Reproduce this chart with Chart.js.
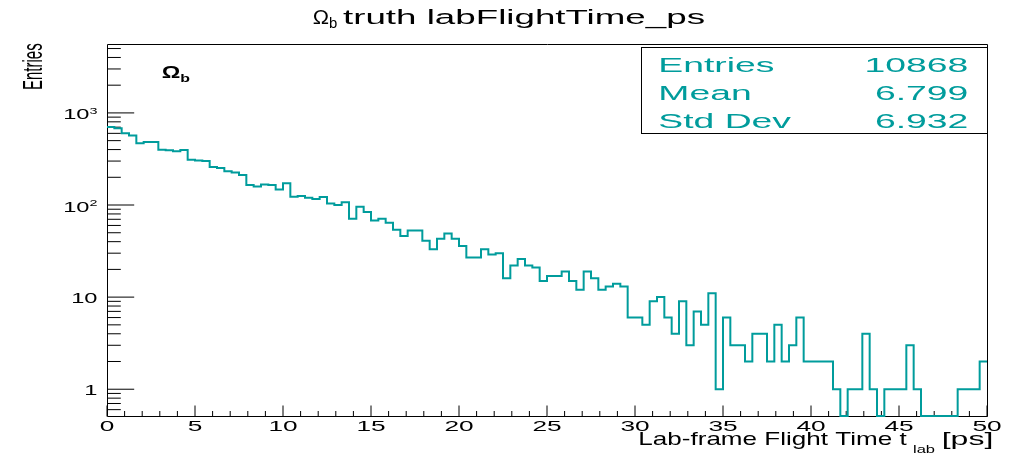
<!DOCTYPE html>
<html>
<head>
<meta charset="utf-8">
<title>Omega_b truth labFlightTime_ps</title>
<script src="https://cdn.jsdelivr.net/npm/chart.js@4.4.1/dist/chart.umd.min.js"></script>
<style>
  html, body { margin: 0; padding: 0; background: #fff; }
  #wrap { position: relative; width: 1017px; height: 454px; }
</style>
</head>
<body>
<div id="wrap"><canvas id="graph"></canvas></div>
<script>
// histogram: 120 bins from 0 to 50 ps
const xLow = 0;
const xHigh = 50;
const counts = [
  705, 680, 600, 567, 467, 484, 484, 399, 392, 383,
  396, 311, 305, 301, 259, 252, 232, 226, 212, 165,
  159, 167, 165, 147, 172, 123, 125, 120, 116, 122,
  104, 100, 107, 71, 96, 84, 68, 71, 64, 54,
  46, 53, 53, 41, 33, 43, 49, 43, 36, 27,
  27, 33, 29, 30, 16, 22, 26, 22, 21, 15,
  17, 17, 19, 15, 12, 19, 16, 12, 13, 14,
  13, 6, 6, 5, 9, 10, 6, 4, 9, 3,
  7, 5, 11, 1, 6, 3, 3, 2, 4, 4,
  2, 5, 2, 3, 6, 2, 2, 2, 2, 1,
  0, 1, 1, 4, 1, 0, 1, 1, 1, 3,
  1, 0, 0, 0, 0, 0, 1, 1, 1, 2
];
const binWidth = (xHigh - xLow) / counts.length;
const binEdges = [];
for (let i = 0; i <= counts.length; i++) binEdges.push(xLow + i * binWidth);

const xTickValues = [0, 5, 10, 15, 20, 25, 30, 35, 40, 45, 50];
const yTickValues = [1, 10, 100, 1000];
const yTickLabels = [['1', ''], ['10', ''], ['10', '2'], ['10', '3']];
const yMin = 0.512;
const yMax = 5600;

const statNames = ['Entries', 'Mean', 'Std Dev'];
const statValues = ['10868', '6.799', '6.932'];

const lineColor = '#009c9c';
const FONT = '"Liberation Sans", Arial, sans-serif';

// zero bins sit on the bottom of the frame
const points = binEdges.map((x, i) => {
  const v = counts[Math.min(i, counts.length - 1)];
  return { x: x, y: v > 0 ? v : yMin };
});

// text in the picture is stretched sideways, so draw it fitted to a width
function drawParts(ctx, parts, x, y, width, align, color) {
  let natural = 0;
  parts.forEach(p => {
    ctx.font = (p[3] ? 'bold ' : '') + p[1] + 'px ' + FONT;
    natural += ctx.measureText(p[0]).width;
  });
  const sx = width > 5 ? width / natural : width;
  const total = natural * sx;
  let x0 = x;
  if (align === 'right') x0 = x - total;
  if (align === 'center') x0 = x - total / 2;
  ctx.save();
  ctx.translate(x0, y);
  ctx.scale(sx, 1);
  ctx.fillStyle = color || '#000';
  ctx.textAlign = 'left';
  ctx.textBaseline = 'alphabetic';
  let cx = 0;
  parts.forEach(p => {
    ctx.font = (p[3] ? 'bold ' : '') + p[1] + 'px ' + FONT;
    ctx.fillText(p[0], cx, p[2] || 0);
    cx += ctx.measureText(p[0]).width;
  });
  ctx.restore();
}

const rootStyle = {
  id: 'rootStyle',
  beforeDatasetsDraw(chart) {
    const ctx = chart.ctx;
    const a = chart.chartArea;
    const xs = chart.scales.x, ys = chart.scales.y;
    ctx.save();
    ctx.strokeStyle = '#000';
    ctx.lineWidth = 1;
    ctx.beginPath();
    // frame
    ctx.moveTo(a.left + 0.5, a.top + 0.5);
    ctx.lineTo(a.right + 0.5, a.top + 0.5);
    ctx.lineTo(a.right + 0.5, a.bottom + 0.5);
    ctx.lineTo(a.left + 0.5, a.bottom + 0.5);
    ctx.closePath();
    // x ticks
    for (let v = xLow; v <= xHigh; v++) {
      const px = xs.getPixelForValue(v);
      const len = v % 5 === 0 ? 11 : 5.5;
      ctx.moveTo(px, a.bottom + 0.5);
      ctx.lineTo(px, a.bottom + 0.5 - len);
    }
    // y ticks
    [0.1, 1, 10, 100, 1000].forEach(d => {
      for (let m = 1; m <= 9; m++) {
        const v = d * m;
        if (v < yMin || v > yMax) continue;
        const py = ys.getPixelForValue(v);
        const len = m === 1 ? 26.7 : 13.3;
        ctx.moveTo(a.left + 0.5, py);
        ctx.lineTo(a.left + 0.5 + len, py);
      }
    });
    ctx.stroke();
    ctx.restore();
  },
  afterDraw(chart) {
    const ctx = chart.ctx;
    const xs = chart.scales.x, ys = chart.scales.y;

    // tick labels
    xs.ticks.forEach(t => {
      drawParts(ctx, [[String(t.value), 15, 0]], xs.getPixelForValue(t.value), 431, 1.75, 'center');
    });
    ys.ticks.forEach((t, i) => {
      const lab = yTickLabels[i];
      const py = ys.getPixelForValue(t.value);
      const parts = [[lab[0], 14, 0]];
      if (lab[1]) parts.push([lab[1], 8.5, -5.5]);
      drawParts(ctx, parts, 97.5, py + (lab[1] ? 6.5 : 5.5), 1.69, 'right');
    });

    // title
    drawParts(ctx, [['\u03A9', 20.5, 0], ['b', 14, 3.5]], 312.7, 24, 24.6, 'left');
    drawParts(ctx, [['truth labFlightTime_ps', 20.5, 0]], 343, 24, 362, 'left');

    // axis titles
    drawParts(ctx, [['Lab-frame Flight Time t', 19, 0]], 638.3, 445, 268.4, 'left');
    drawParts(ctx, [['lab', 11, 0]], 913, 453, 22, 'left');
    drawParts(ctx, [['[ps]', 19, 0]], 941.7, 445, 51.6, 'left');

    ctx.save();
    ctx.translate(42.3, 43.3);
    ctx.scale(1.78, 1);
    ctx.rotate(-Math.PI / 2);
    ctx.font = '15px ' + FONT;
    ctx.fillStyle = '#000';
    ctx.textAlign = 'right';
    ctx.textBaseline = 'alphabetic';
    ctx.fillText('Entries', 0, 0);
    ctx.restore();

    // label inside the pad
    drawParts(ctx, [['\u03A9', 16, 0, true], ['b', 11, 3.4, true]], 161.7, 78.3, 28.3, 'left');

    // stats box
    ctx.save();
    ctx.fillStyle = '#fff';
    ctx.fillRect(641.5, 47.5, 346, 86);
    ctx.strokeStyle = '#000';
    ctx.lineWidth = 1;
    ctx.strokeRect(641.5, 47.5, 346, 86);
    ctx.restore();
    const rowY = [71.7, 100, 128.3];
    statNames.forEach((n, i) => {
      drawParts(ctx, [[n, 20.5, 0]], 658.3, rowY[i], 1.82, 'left', lineColor);
      drawParts(ctx, [[statValues[i], 20.5, 0]], 968.3, rowY[i], 1.82, 'right', lineColor);
    });
  }
};

const ctx = document.getElementById('graph').getContext('2d');
const chart = new Chart(ctx, {
  type: 'line',
  data: {
    datasets: [{
      label: 'labFlightTime_ps',
      data: points,
      borderColor: lineColor,
      borderWidth: 2,
      pointRadius: 0,
      stepped: 'before',
      fill: false,
      clip: { left: 0, top: 0, right: 0, bottom: 2 }
    }]
  },
  options: {
    responsive: true,
    maintainAspectRatio: false,
    animation: false,
    layout: { padding: { left: 0, right: 30, top: 44, bottom: 0 } },
    plugins: {
      legend: { display: false },
      tooltip: { enabled: false },
      title: { display: false }
    },
    scales: {
      x: {
        type: 'linear',
        min: xLow,
        max: xHigh,
        ticks: { display: false },
        grid: { display: false },
        border: { display: false },
        afterBuildTicks: s => { s.ticks = xTickValues.map(v => ({ value: v })); },
        afterFit: s => { s.height = 38; }
      },
      y: {
        type: 'logarithmic',
        min: yMin,
        max: yMax,
        ticks: { display: false },
        grid: { display: false },
        border: { display: false },
        afterBuildTicks: s => { s.ticks = yTickValues.map(v => ({ value: v })); },
        afterFit: s => { s.width = 107; }
      }
    }
  },
  plugins: [rootStyle]
});
</script>
</body>
</html>
